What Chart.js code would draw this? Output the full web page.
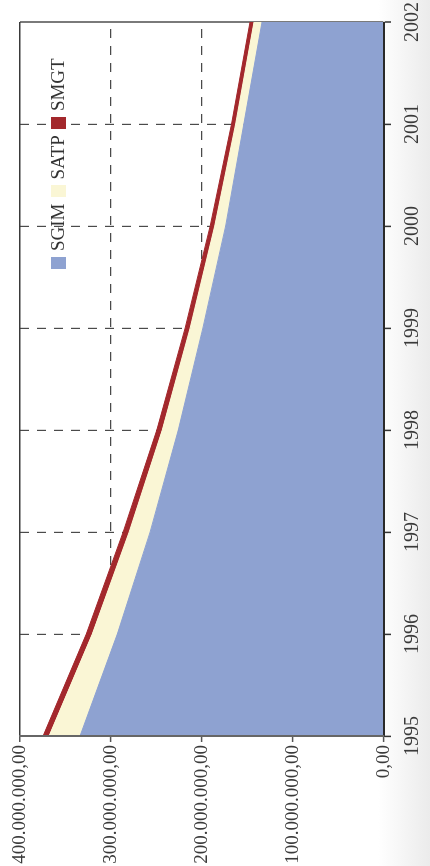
<!DOCTYPE html>
<html>
<head>
<meta charset="utf-8">
<script src="https://cdn.jsdelivr.net/npm/chart.js@4.4.1/dist/chart.umd.min.js"></script>
<style>
html, body { margin: 0; padding: 0; }
body {
    width: 430px; height: 866px; overflow: hidden; position: relative;
    background: linear-gradient(90deg, #fff 0%, #fff 88%, #ebebeb 100%);
    font-family: "Liberation Serif", serif;
}
/* the chart is drawn upright, then turned a quarter to the left */
#wrap {
    position: absolute; left: 0; top: 866px;
    width: 866px; height: 430px;
    transform-origin: 0 0; transform: rotate(-90deg);
}
#wrap canvas { position: absolute; left: 0; top: 0; }
#legend {
    position: absolute; left: 597px; top: 48px;
    display: flex; align-items: center;
    font-size: 19px; color: #333; line-height: 20px;
}
.item { display: flex; align-items: center; margin-right: 6px; }
.box { width: 12px; height: 15px; margin-right: 6px; }
</style>
</head>
<body>
<div id="wrap">
    <canvas id="chart" width="866" height="430"></canvas>
    <div id="legend"></div>
</div>
<script>
const years = ["1995", "1996", "1997", "1998", "1999", "2000", "2001", "2002"];

const sgim = [334e6, 293e6, 257e6, 226e6, 199e6, 174e6, 154e6, 134e6];
const satp = [34e6, 27.5e6, 23e6, 17.6e6, 14e6, 12e6, 9e6, 8.8e6];
const smgt = [6.6e6, 6.6e6, 6.6e6, 6e6, 5.5e6, 5e6, 4.5e6, 4.4e6];

const valueTicks = [0, 100000000, 200000000, 300000000, 400000000];

const seriesNames = ["SGIM", "SATP", "SMGT"];
const seriesColors = ["#8ea2d1", "#faf6d5", "#a3282c"];

function money(v)
{
    let s = Math.round(v).toString();
    s = s.replace(/\B(?=(\d{3})+(?!\d))/g, ".");
    return s + ",00";
}

const datasets = [sgim, satp, smgt].map((d, i) => ({
    label: seriesNames[i],
    data: d,
    backgroundColor: seriesColors[i],
    borderColor: seriesColors[i],
    borderWidth: 1,
    pointRadius: 0,
    tension: 0,
    fill: i === 0 ? "origin" : "-1"
}));

const serif = "'Liberation Serif', serif";

new Chart(document.getElementById("chart"), {
    type: "line",
    data: { labels: years, datasets: datasets },
    options: {
        responsive: false,
        animation: false,
        devicePixelRatio: 1,
        layout: { padding: { top: 20, right: 22, left: 0, bottom: 0 } },
        plugins: {
            legend: { display: false },
            tooltip: { enabled: false }
        },
        scales: {
            x: {
                offset: false,
                afterFit: s => {
                    s.height = 46;
                    s.paddingLeft = 0;
                    s.paddingRight = 0;
                },
                grid: {
                    color: c => c.index === years.length - 1 ? "#7a7a7a" : "#4a4a4a",
                    lineWidth: c => c.index === years.length - 1 ? 2 : 1.2,
                    tickLength: 7,
                    tickColor: "#333",
                    tickWidth: 1.5
                },
                border: {
                    color: "#2a2a2a", width: 2, z: 1,
                    dash: c => c.index === years.length - 1 ? [] : [9, 8]
                },
                ticks: {
                    color: "#3a3a3a",
                    maxRotation: 0,
                    padding: 10,
                    font: { family: serif, size: 20 }
                }
            },
            y: {
                stacked: true,
                min: 0,
                max: 400000000,
                afterFit: s => {
                    s.width = 130;
                    s.paddingTop = 0;
                    s.paddingBottom = 0;
                },
                afterBuildTicks: s => { s.ticks = valueTicks.map(v => ({ value: v })); },
                grid: {
                    color: c => c.tick && c.tick.value === 400000000 ? "#3a3a3a" : "#4a4a4a",
                    lineWidth: c => c.tick && c.tick.value === 400000000 ? 1.5 : 1.2,
                    tickLength: 6,
                    tickColor: "#555",
                    tickWidth: 1.5
                },
                border: {
                    color: "#666", width: 2, z: 1,
                    dash: c => c.tick && c.tick.value === 400000000 ? [] : [9, 8]
                },
                ticks: {
                    color: "#3a3a3a",
                    padding: 3,
                    font: { family: serif, size: 19 },
                    callback: v => money(v)
                }
            }
        }
    }
});

// legend as page text, in series order
const legend = document.getElementById("legend");
seriesNames.forEach((name, i) => {
    const item = document.createElement("div");
    item.className = "item";
    item.innerHTML = '<span class="box" style="background:' + seriesColors[i] + '"></span><span>' + name + '</span>';
    legend.appendChild(item);
});
</script>
</body>
</html>
